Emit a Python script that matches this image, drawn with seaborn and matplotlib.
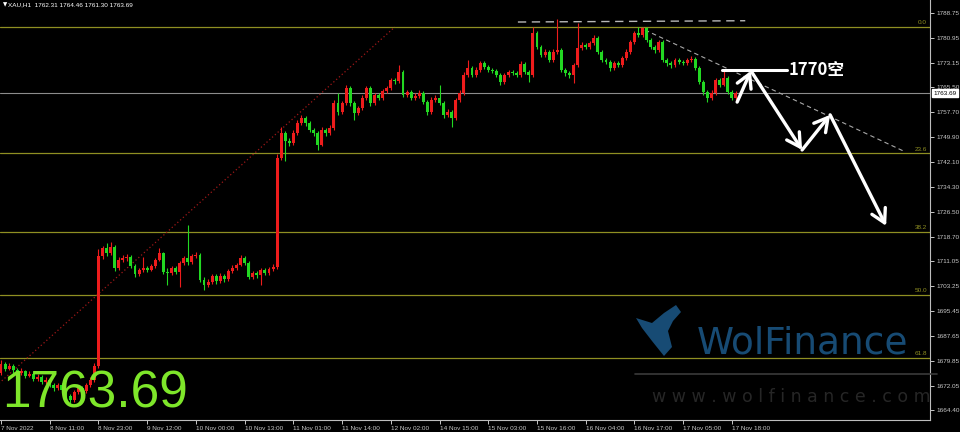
import numpy as np
import pandas as pd
import matplotlib
matplotlib.use("Agg")
import matplotlib.pyplot as plt
import matplotlib.transforms as mtransforms
import seaborn as sns

# XAU H1 bars, 7 Nov 2022 23:00 -> 17 Nov 2022 (one value per bar)
opens = [
    1675.9, 1678.8, 1677.2, 1678.2, 1676.9, 1675.9, 1676.5, 1675.0, 1675.6, 1674.1,
    1674.7, 1673.1, 1673.8, 1672.2, 1671.2, 1672.2, 1670.6, 1668.8, 1667.5, 1670.0,
    1671.2, 1670.3, 1672.2, 1673.8, 1678.2, 1712.7, 1715.2, 1713.6, 1715.5, 1708.9,
    1711.4, 1712.1, 1712.4, 1709.5, 1707.0, 1708.3, 1708.9, 1708.3, 1709.5, 1711.4,
    1713.6, 1707.6, 1707.3, 1708.9, 1707.6, 1710.5, 1712.1, 1710.8, 1712.7, 1713.0,
    1705.1, 1703.6, 1704.5, 1706.4, 1704.8, 1706.4, 1705.4, 1708.0, 1708.9, 1709.9,
    1712.1, 1710.5, 1706.1, 1707.3, 1706.7, 1708.3, 1707.3, 1708.6, 1709.2, 1743.5,
    1751.2, 1748.7, 1748.1, 1751.2, 1754.3, 1755.9, 1754.3, 1752.2, 1751.2, 1747.5,
    1752.2, 1751.2, 1752.8, 1760.6, 1757.8, 1760.6, 1765.3, 1760.6, 1757.5, 1759.0,
    1762.2, 1765.3, 1760.6, 1763.1, 1762.2, 1764.4, 1765.3, 1767.8, 1767.5, 1770.3,
    1763.1, 1764.0, 1762.2, 1762.8, 1763.8, 1761.0, 1757.8, 1761.6, 1762.2, 1760.6,
    1756.9, 1757.8, 1755.9, 1761.6, 1763.8, 1769.4, 1771.6, 1769.4, 1771.0, 1773.1,
    1771.9, 1771.0, 1770.7, 1769.4, 1767.2, 1769.4, 1770.3, 1770.0, 1769.4, 1772.8,
    1770.3, 1769.4, 1782.5, 1778.2, 1775.7, 1776.6, 1774.1, 1776.6, 1777.2, 1771.0,
    1770.0, 1769.4, 1772.5, 1777.8, 1778.8, 1778.2, 1779.4, 1781.0, 1776.6, 1774.1,
    1773.5, 1771.6, 1773.1, 1772.5, 1774.7, 1776.6, 1779.7, 1782.5, 1781.9, 1784.1,
    1780.4, 1778.2, 1777.2, 1779.7, 1774.1, 1773.1, 1772.5, 1774.1, 1773.5, 1773.1,
    1774.1, 1774.4, 1771.6, 1767.2, 1764.1, 1762.2, 1763.8, 1767.8, 1766.3, 1768.5,
    1764.1, 1762.31]
highs = [
    1680.2, 1679.5, 1679.0, 1678.8, 1677.5, 1677.4, 1677.0, 1676.5, 1676.2, 1675.6,
    1675.2, 1674.6, 1674.3, 1672.9, 1673.0, 1672.8, 1671.2, 1669.5, 1670.8, 1672.0,
    1671.8, 1672.9, 1674.6, 1679.0, 1714.8, 1715.8, 1716.8, 1717.0, 1716.0, 1712.2,
    1713.0, 1713.4, 1713.0, 1710.2, 1709.0, 1712.4, 1709.6, 1710.2, 1712.0, 1715.2,
    1714.0, 1708.8, 1709.6, 1709.5, 1711.2, 1712.8, 1722.3, 1713.4, 1713.9, 1713.6,
    1706.0, 1705.3, 1707.1, 1707.0, 1707.2, 1707.0, 1708.7, 1709.8, 1710.6, 1712.9,
    1712.8, 1711.0, 1708.0, 1707.9, 1709.0, 1708.9, 1709.3, 1710.0, 1744.6, 1753.1,
    1751.8, 1749.6, 1752.0, 1755.2, 1756.9, 1756.6, 1755.0, 1752.9, 1751.9, 1753.0,
    1752.9, 1753.6, 1761.4, 1763.8, 1761.3, 1766.1, 1765.9, 1761.2, 1759.8, 1763.0,
    1766.0, 1766.0, 1763.9, 1763.8, 1765.1, 1766.0, 1768.6, 1768.4, 1772.5, 1770.9,
    1764.8, 1764.6, 1763.6, 1764.6, 1764.4, 1761.6, 1762.4, 1763.0, 1766.3, 1761.2,
    1758.6, 1758.5, 1762.3, 1764.6, 1770.2, 1774.1, 1772.2, 1771.8, 1773.9, 1773.7,
    1772.6, 1771.6, 1771.3, 1770.0, 1770.1, 1771.1, 1771.0, 1770.7, 1773.8, 1773.4,
    1771.0, 1784.5, 1783.2, 1778.9, 1777.4, 1777.2, 1777.4, 1786.8, 1777.9, 1771.7,
    1770.8, 1773.2, 1785.7, 1779.6, 1779.5, 1780.2, 1781.8, 1781.6, 1777.2, 1774.8,
    1774.2, 1773.9, 1773.8, 1775.5, 1777.4, 1780.5, 1783.3, 1784.5, 1784.5, 1784.4,
    1781.0, 1778.9, 1780.4, 1780.3, 1774.8, 1773.8, 1774.8, 1774.8, 1774.2, 1774.8,
    1775.2, 1775.0, 1772.2, 1767.9, 1764.8, 1764.6, 1768.6, 1768.4, 1771.3, 1769.1,
    1764.8, 1764.46]
lows = [
    1675.2, 1676.5, 1676.8, 1676.0, 1675.0, 1675.3, 1674.4, 1674.6, 1673.5, 1673.6,
    1672.4, 1672.6, 1671.5, 1670.4, 1670.8, 1669.8, 1668.0, 1666.6, 1667.0, 1669.4,
    1669.5, 1669.8, 1671.6, 1673.2, 1677.6, 1711.6, 1712.8, 1713.0, 1707.9, 1708.2,
    1710.8, 1711.2, 1708.8, 1706.2, 1706.5, 1707.6, 1707.5, 1707.8, 1709.0, 1711.0,
    1707.0, 1703.6, 1706.8, 1706.9, 1702.9, 1709.9, 1709.8, 1710.2, 1711.9, 1704.4,
    1702.0, 1702.9, 1703.9, 1704.0, 1704.3, 1704.6, 1704.9, 1707.4, 1708.2, 1709.4,
    1709.8, 1705.4, 1705.6, 1705.9, 1703.6, 1706.6, 1706.8, 1707.9, 1708.6, 1742.6,
    1742.5, 1747.2, 1747.5, 1750.6, 1753.6, 1753.5, 1751.5, 1750.4, 1745.9, 1747.0,
    1750.3, 1750.6, 1752.2, 1757.0, 1757.2, 1760.0, 1759.8, 1755.3, 1756.8, 1758.4,
    1761.6, 1759.7, 1760.0, 1761.5, 1761.7, 1763.8, 1764.8, 1766.7, 1766.9, 1762.4,
    1762.5, 1761.5, 1761.6, 1762.2, 1760.3, 1757.0, 1757.2, 1761.0, 1759.9, 1756.0,
    1756.2, 1753.1, 1755.3, 1761.0, 1763.2, 1768.8, 1768.7, 1768.8, 1770.4, 1771.2,
    1770.3, 1769.9, 1768.7, 1766.4, 1766.6, 1768.8, 1769.3, 1768.7, 1768.9, 1769.6,
    1767.2, 1768.8, 1777.5, 1774.9, 1775.0, 1773.4, 1773.6, 1776.0, 1770.2, 1769.2,
    1768.6, 1766.8, 1772.0, 1777.2, 1777.5, 1777.6, 1778.8, 1775.9, 1773.4, 1772.7,
    1770.8, 1770.9, 1771.8, 1771.9, 1774.0, 1776.0, 1779.1, 1781.2, 1781.3, 1779.7,
    1777.4, 1776.4, 1776.6, 1773.4, 1772.3, 1771.7, 1771.9, 1772.8, 1772.4, 1772.5,
    1773.5, 1770.9, 1766.5, 1763.2, 1761.0, 1761.6, 1763.2, 1765.6, 1765.8, 1763.4,
    1761.6, 1761.30]
closes = [
    1678.8, 1677.2, 1678.2, 1676.9, 1675.9, 1676.5, 1675.0, 1675.6, 1674.1, 1674.7,
    1673.1, 1673.8, 1672.2, 1671.2, 1672.2, 1670.6, 1668.8, 1667.5, 1670.0, 1671.2,
    1670.3, 1672.2, 1673.8, 1678.2, 1712.7, 1715.2, 1713.6, 1715.5, 1708.9, 1711.4,
    1712.1, 1712.4, 1709.5, 1707.0, 1708.3, 1708.9, 1708.3, 1709.5, 1711.4, 1713.6,
    1707.6, 1707.3, 1708.9, 1707.6, 1710.5, 1712.1, 1710.8, 1712.7, 1713.0, 1705.1,
    1703.6, 1704.5, 1706.4, 1704.8, 1706.4, 1705.4, 1708.0, 1708.9, 1709.9, 1712.1,
    1710.5, 1706.1, 1707.3, 1706.7, 1708.3, 1707.3, 1708.6, 1709.2, 1743.5, 1751.2,
    1748.7, 1748.1, 1751.2, 1754.3, 1755.9, 1754.3, 1752.2, 1751.2, 1747.5, 1752.2,
    1751.2, 1752.8, 1760.6, 1757.8, 1760.6, 1765.3, 1760.6, 1757.5, 1759.0, 1762.2,
    1765.3, 1760.6, 1763.1, 1762.2, 1764.4, 1765.3, 1767.8, 1767.5, 1770.3, 1763.1,
    1764.0, 1762.2, 1762.8, 1763.8, 1761.0, 1757.8, 1761.6, 1762.2, 1760.6, 1756.9,
    1757.8, 1755.9, 1761.6, 1763.8, 1769.4, 1771.6, 1769.4, 1771.0, 1773.1, 1771.9,
    1771.0, 1770.7, 1769.4, 1767.2, 1769.4, 1770.3, 1770.0, 1769.4, 1772.8, 1770.3,
    1769.4, 1782.5, 1778.2, 1775.7, 1776.6, 1774.1, 1776.6, 1777.2, 1771.0, 1770.0,
    1769.4, 1772.5, 1777.8, 1778.8, 1778.2, 1779.4, 1781.0, 1776.6, 1774.1, 1773.5,
    1771.6, 1773.1, 1772.5, 1774.7, 1776.6, 1779.7, 1782.5, 1781.9, 1784.1, 1780.4,
    1778.2, 1777.2, 1779.7, 1774.1, 1773.1, 1772.5, 1774.1, 1773.5, 1773.1, 1774.1,
    1774.4, 1771.6, 1767.2, 1764.1, 1762.2, 1763.8, 1767.8, 1766.3, 1768.5, 1764.1,
    1762.31, 1763.69]

tick_bars = [0, 12, 24, 36, 48, 60, 72, 84, 96, 108, 120, 132, 144, 156, 168, 180]
tick_labels = ['7 Nov 2022', '8 Nov 11:00', '8 Nov 23:00', '9 Nov 12:00', '10 Nov 00:00',
               '10 Nov 13:00', '11 Nov 01:00', '11 Nov 14:00', '12 Nov 02:00', '14 Nov 15:00',
               '15 Nov 03:00', '15 Nov 16:00', '16 Nov 04:00', '16 Nov 17:00', '17 Nov 05:00',
               '17 Nov 18:00']
price_ticks = [1788.75, 1780.95, 1773.15, 1765.50, 1757.70, 1749.90, 1742.10, 1734.30, 1726.50,
               1718.70, 1711.05, 1703.25, 1695.45, 1687.65, 1679.85, 1672.05, 1664.40]

fib_labels = ['0.0', '23.6', '38.2', '50.0', '61.8']
fib_prices = [1784.46, 1744.81, 1720.28, 1700.46, 1680.64]
fib_anchor_bars = [-49.6, 97.0]
fib_anchor_prices = [1616.46, 1784.46]

top_line_bars = [127.3, 183.3]
top_line_prices = [1786.0, 1786.4]
down_line_bars = [158.6, 222.7]
down_line_prices = [1783.5, 1745.3]

short_level = 1771.0
short_bars = [177.6, 193.6]
path_bars = [181.3, 184.7, 197.3, 204.2, 218.0]
path_prices = [1760.9, 1770.7, 1745.9, 1756.9, 1722.1]

last_price = 1763.69

# --- style
sns.set_theme(style="dark", rc={
    "axes.facecolor": "black", "figure.facecolor": "black",
    "axes.edgecolor": "#bdbdbd", "axes.grid": False,
    "xtick.color": "#bdbdbd", "ytick.color": "#bdbdbd",
    "xtick.bottom": True, "ytick.right": True,
})
plt.rcParams['font.family'] = ['Liberation Sans', 'DejaVu Sans']

df = pd.DataFrame({"open": opens, "high": highs, "low": lows, "close": closes})
df["bar"] = np.arange(len(df))
df["up"] = df["close"] >= df["open"]
colors = np.where(df["up"], "#ee1c1c", "#22d822")

fig = plt.figure(figsize=(9.6, 4.32), dpi=100)
ax = fig.add_axes([0, 12 / 432, 930 / 960, 420 / 432])

# fib levels + bid line
fib_color = "#8f8f22"
for lab, p in zip(fib_labels, fib_prices):
    ax.axhline(p, color=fib_color, lw=0.9, zorder=1)
    ax.text(0.997, p + 0.6, lab, transform=mtransforms.blended_transform_factory(ax.transAxes, ax.transData),
            ha="right", va="bottom", fontsize=4.6, color=fib_color)
ax.axhline(last_price, color="#8c8c8c", lw=0.8, zorder=1)
ax.plot(fib_anchor_bars, fib_anchor_prices, ls=(0, (1, 2)), color="#a01818", lw=0.9, zorder=1)

# candles
ax.vlines(df["bar"], df["low"], df["high"], colors=colors, lw=0.8, zorder=3)
body = (df["close"] - df["open"]).abs().clip(lower=0.25)
ax.bar(df["bar"], body, bottom=df[["open", "close"]].min(axis=1), width=0.72,
       color=colors, linewidth=0, zorder=4)

# trend lines
ax.plot(top_line_bars, top_line_prices, ls=(0, (6, 4)), color="#b8b8b8", lw=1.0, zorder=2)
ax.plot(down_line_bars, down_line_prices, ls=(0, (4, 3)), color="#a8a8a8", lw=0.8, zorder=2)

# short plan
ax.plot(short_bars, [short_level, short_level], color="white", lw=2.2, zorder=6)
ax.text(short_bars[1] + 0.3, short_level, "1770空", color="white", fontsize=12, weight="bold",
        va="center", ha="left", family=["Noto Sans CJK SC", "DejaVu Sans"], zorder=6)
for i in range(len(path_bars) - 1):
    ax.annotate("", xy=(path_bars[i + 1], path_prices[i + 1]), xytext=(path_bars[i], path_prices[i]),
                arrowprops=dict(arrowstyle="->,head_length=0.8,head_width=0.45", color="white",
                                lw=2.4, shrinkA=0, shrinkB=0), zorder=6)

# axes
ax.set_xlim(-0.25, 228.8)
ax.set_ylim(1661.25, 1792.9)
ax.set_xticks(tick_bars, tick_labels, ha="left")
ax.set_yticks(price_ticks, [f"{p:.2f}" for p in price_ticks])
ax.yaxis.tick_right()
ax.tick_params(axis="x", length=3, width=0.7, labelsize=4.6, pad=1.5, colors="#c8c8c8")
ax.tick_params(axis="y", length=3, width=0.7, labelsize=4.6, pad=2, colors="#c8c8c8")
for side in ["top", "left"]:
    ax.spines[side].set_visible(False)
for side in ["right", "bottom"]:
    ax.spines[side].set_color("#bdbdbd")
    ax.spines[side].set_linewidth(0.8)

# current price tag
ax.text(1.004, last_price, f"{last_price:.2f}",
        transform=mtransforms.blended_transform_factory(ax.transAxes, ax.transData),
        ha="left", va="center", fontsize=4.6, color="black", clip_on=False, zorder=10,
        bbox=dict(boxstyle="square,pad=0.25", facecolor="white", edgecolor="white"))

# header
ax.text(0.003, 0.988, "▼", transform=ax.transAxes, fontsize=4, color="white", va="center",
        family="DejaVu Sans")
ax.text(0.009, 0.988, "XAU,H1  1762.31 1764.46 1761.30 1763.69", transform=ax.transAxes,
        fontsize=4.6, color="white", va="center")

# watermark
fig.text(697 / 960, 1 - 354 / 432, "WolFinance", fontsize=27, color="#174b74",
         family="DejaVu Sans", ha="left", va="baseline", zorder=0)
fig.lines.append(plt.Line2D([635 / 960, 937 / 960], [1 - 374 / 432] * 2, transform=fig.transFigure,
                            color="#3a3a3a", lw=1.2))
fig.text(652 / 960, 1 - 402 / 432, "w w w . w o l f i n a n c e . c o m", fontsize=12.5,
         color="#262626", family="DejaVu Sans", ha="left", va="baseline")
logo_x = [636, 652, 664, 676, 681, 673, 668, 672, 664, 652, 642]
logo_y = [318, 323, 313, 305, 312, 321, 331, 347, 356, 341, 328]
fig.patches.append(plt.Polygon(list(zip(np.array(logo_x) / 960, 1 - np.array(logo_y) / 432)),
                               closed=True, transform=fig.transFigure, facecolor="#174b74",
                               edgecolor="none"))

# big price
fig.text(2 / 960, 1 - 408 / 432, "1763.69", fontsize=37, color="#7ee62a",
         family="Liberation Sans", ha="left", va="baseline", zorder=20)

fig.savefig("out.png", dpi=100, facecolor="black")
